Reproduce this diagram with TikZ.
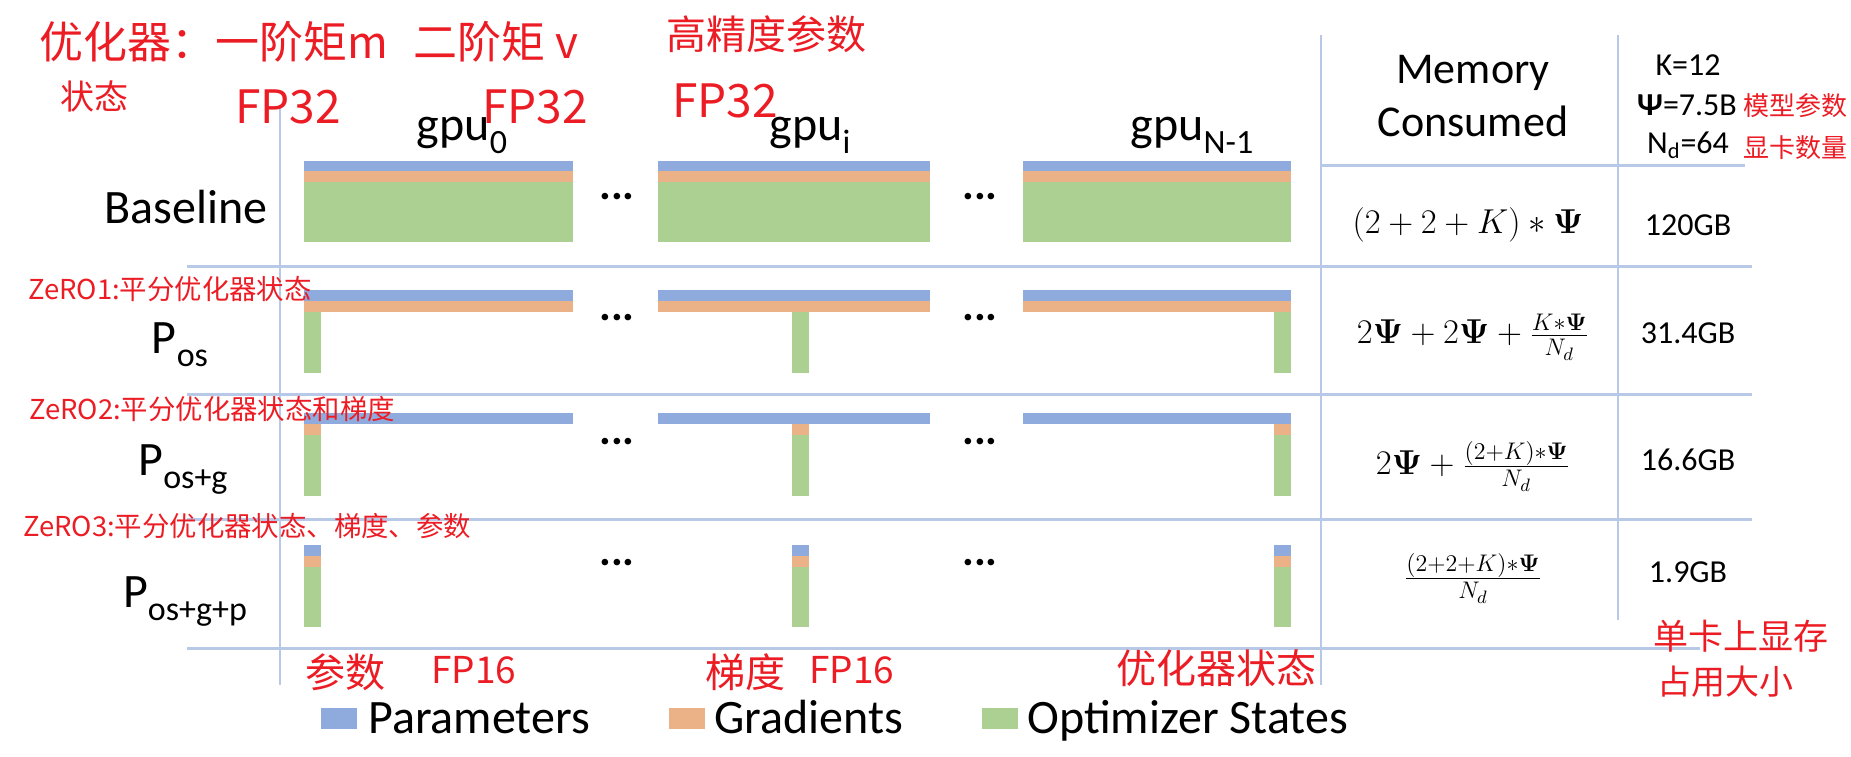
\documentclass[tikz,border=0pt]{standalone}
\usepackage{fontspec}
\usepackage{bm}
\setmainfont{Carlito}
\newfontfamily\cjk{Noto Sans CJK SC}
\definecolor{parblue}{RGB}{143,170,220}
\definecolor{gradorange}{RGB}{236,178,135}
\definecolor{optgreen}{RGB}{172,208,146}
\definecolor{gridblue}{RGB}{184,201,232}
\definecolor{notered}{RGB}{236,28,36}
\newcommand{\psub}[1]{\raisebox{-0.28em}{\fontsize{17}{17}\selectfont #1}}

\begin{document}
\begin{tikzpicture}[x=0.5pt, y=-0.5pt,
	rowline/.style={draw=gridblue, line width=1.5pt},
	colline/.style={draw=gridblue, line width=1.2pt},
	parbar/.style={fill=parblue},
	gradbar/.style={fill=gradorange},
	optbar/.style={fill=optgreen},
	lbl/.style={inner sep=0pt, font=\fontsize{24}{28}\selectfont},
	small/.style={inner sep=0pt, font=\fontsize{16}{18}\selectfont},
	formula/.style={inner sep=0pt, font=\fontsize{18}{20}\selectfont},
	dots/.style={inner sep=0pt, font=\fontsize{22}{24}\bfseries},
	rednote/.style={inner sep=0pt, anchor=west, text=notered, font=\cjk\fontsize{#1}{#1}\selectfont}]
		\useasboundingbox (0,0) rectangle (1851,756);
		% table lines
		\draw [rowline] (187,266) -- (1752,266);
		\draw [rowline] (187,394) -- (1752,394);
		\draw [rowline] (187,519) -- (1752,519);
		\draw [rowline] (187,648) -- (1700,648);
		\draw [rowline] (1321,165) -- (1745,165);
		\draw [colline] (280,105) -- (280,685);
		\draw [colline] (1321,35) -- (1321,685);
		\draw [colline] (1618,35) -- (1618,620);
		% memory of each gpu
		\foreach \xl/\xr/\sl in {304/573/304, 658/930/792, 1023/1291/1274} {
			\fill [parbar] (\xl,161) rectangle (\xr,171);
			\fill [gradbar] (\xl,171) rectangle (\xr,182);
			\fill [optbar] (\xl,182) rectangle (\xr,242);
			\fill [parbar] (\xl,290) rectangle (\xr,301);
			\fill [gradbar] (\xl,301) rectangle (\xr,312);
			\fill [optbar] (\sl,312) rectangle (\sl+17,373);
			\fill [parbar] (\xl,413) rectangle (\xr,424);
			\fill [gradbar] (\sl,424) rectangle (\sl+17,435);
			\fill [optbar] (\sl,435) rectangle (\sl+17,496);
			\fill [parbar] (\sl,545) rectangle (\sl+17,556);
			\fill [gradbar] (\sl,556) rectangle (\sl+17,567);
			\fill [optbar] (\sl,567) rectangle (\sl+17,627);
		}
		\foreach \y in {197,318,442,563} {
			\node [dots] (dotsl\y) at (617,\y) {...};
			\node [dots] (dotsr\y) at (980,\y) {...};
		}
		\node [lbl, anchor=base] (gpu0) at (462,140) {gpu\psub{0}};
		\node [lbl, anchor=base] (gpui) at (810,140) {gpu\psub{i}};
		\node [lbl, anchor=base] (gpun) at (1192,140) {gpu\psub{N-1}};
		\node [lbl, anchor=base] (base) at (186,223) {Baseline};
		\node [lbl, anchor=base] (pos) at (180,353) {P\psub{os}};
		\node [lbl, anchor=base] (posg) at (183,475) {P\psub{os+g}};
		\node [lbl, anchor=base] (posgp) at (185,607) {P\psub{os+g+p}};
		% header and results
		\node [inner sep=0pt, anchor=base, font=\fontsize{22}{26}\selectfont] (mem) at (1473,83) {Memory};
		\node [inner sep=0pt, anchor=base, font=\fontsize{22}{26}\selectfont] (cons) at (1473,136) {Consumed};
		\node [small, anchor=base] (kval) at (1688,75) {K=12};
		\node [small, anchor=base] (psival) at (1687,115) {\textbf{Ψ}=7.5B};
		\node [small, anchor=base] (ndval) at (1688,153) {N\textsubscript{d}=64};
		\node [formula] (f0) at (1468,225) {$(2+2+K)\ast\bm{\Psi}$};
		\node [formula] (f1) at (1473,337) {$2\bm{\Psi}+2\bm{\Psi}+\frac{K\ast\bm{\Psi}}{N_d}$};
		\node [formula] (f2) at (1473,466) {$2\bm{\Psi}+\frac{(2+K)\ast\bm{\Psi}}{N_d}$};
		\node [formula] (f3) at (1473,578) {$\frac{(2+2+K)\ast\bm{\Psi}}{N_d}$};
		\node [small] (m0) at (1688,225) {120GB};
		\node [small] (m1) at (1688,333) {31.4GB};
		\node [small] (m2) at (1688,460) {16.6GB};
		\node [small] (m3) at (1688,572) {1.9GB};
		% legend
		\fill [parbar] (321,708) rectangle (357,729);
		\node [lbl, anchor=base west] (legpar) at (368,733) {Parameters};
		\fill [gradbar] (669,708) rectangle (705,729);
		\node [lbl, anchor=base west] (leggrad) at (714,733) {Gradients};
		\fill [optbar] (982,708) rectangle (1018,729);
		\node [lbl, anchor=base west] (legopt) at (1027,733) {Optimizer States};
		% red notes
		\node [rednote=22] (n1) at (39,42) {优化器：一阶矩m};
		\node [rednote=22] (n2) at (413,42) {二阶矩 v};
		\node [rednote=20] (n3) at (666,34) {高精度参数};
		\node [rednote=17] (n4) at (60,96) {状态};
		\node [rednote=23] (fp1) at (235,107) {FP32};
		\node [rednote=23] (fp2) at (482,107) {FP32};
		\node [rednote=23] (fp3) at (672,101) {FP32};
		\node [rednote=13.7] (z1) at (28,289) {ZeRO1:平分优化器状态};
		\node [rednote=13.7] (z2) at (29,409) {ZeRO2:平分优化器状态和梯度};
		\node [rednote=13.7] (z3) at (23,526) {ZeRO3:平分优化器状态、梯度、参数};
		\node [rednote=13] (n5) at (1743,106) {模型参数};
		\node [rednote=13] (n6) at (1743,148) {显卡数量};
		\node [rednote=20] (n7) at (305,672) {参数};
		\node [rednote=18.5] (fp4) at (431,670) {FP16};
		\node [rednote=20] (n8) at (705,672) {梯度};
		\node [rednote=18.5] (fp5) at (809,670) {FP16};
		\node [rednote=20] (n9) at (1116,668) {优化器状态};
		\node [rednote=17.5] (n10) at (1653,636) {单卡上显存};
		\node [rednote=17] (n11) at (1657,682) {占用大小};
	\end{tikzpicture}
\end{document}
